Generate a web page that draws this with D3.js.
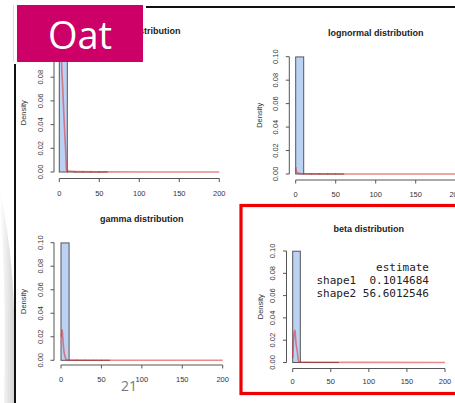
<!DOCTYPE html>
<html>
<head>
<meta charset="utf-8">
<script src="https://cdn.jsdelivr.net/npm/d3@7"></script>
<style>
  body { margin: 0; background: #fff; }
  svg { display: block; }
  .tick-label { font-family: "Liberation Sans", Arial, sans-serif; font-size: 7.5px; fill: #333; }
  .title { font-family: "Liberation Sans", Arial, sans-serif; font-size: 9px; font-weight: bold; fill: #222; }
  .estimate { font-family: "DejaVu Sans Mono", monospace; font-size: 11px; fill: #222; white-space: pre; }
</style>
</head>
<body>
<svg id="chart" width="455" height="403"></svg>
<script>
// histogram (same for every panel): break points and density per bin
const breaks = [0, 10, 20, 30, 40, 50, 60];
const histDensity = [0.0998, 0.0001, 0.00004, 0.00002, 0.00001, 0.00001];

const xTicks = [0, 50, 100, 150, 200];
const yTicks = [0, 0.02, 0.04, 0.06, 0.08, 0.10];

// fitted densities
const weibullX = [1, 2, 3, 4, 5, 6, 7, 8, 9, 10, 20, 60, 200];
const weibullY = [0.2, 0.12, 0.089, 0.075, 0.06, 0.044, 0.03, 0.017, 0.002, 0.001, 0.0003, 0.0001, 0.00002];
const lognormX = [0.2, 0.5, 1, 2, 5, 10, 60, 200];
const lognormY = [0.006, 0.004, 0.002, 0.001, 0.0005, 0.0002, 0.00005, 0];
const gammaX = [0.5, 1, 1.5, 2, 3, 4, 5, 6, 8, 10, 200];
const gammaY = [0.02, 0.026, 0.026, 0.021, 0.012, 0.006, 0.003, 0.001, 0.0003, 0.0001, 0];
const betaX = [0, 0.5, 1, 2, 3, 4, 5, 6, 7, 8, 10, 200];
const betaY = [0.004, 0.012, 0.02, 0.027, 0.029, 0.02, 0.014, 0.01, 0.004, 0.001, 0.0002, 0];

const titles = ["weibull distribution", "lognormal distribution", "gamma distribution", "beta distribution"];
const paramNames = ["shape1", "shape2"];
const paramEstimates = ["0.1014684", "56.6012546"];

// panel placement on the slide
const panels = [
    {x0: 59.3, x200: 219.3, y0: 172, y10: 53.5, axisX: 54, axisY: 178.5, labelY: 193, titleY: 31, densX: 23, curveX: weibullX, curveY: weibullY},
    {x0: 295.7, x200: 455.7, y0: 174, y10: 56.7, axisX: 289.3, axisY: 180, labelY: 194, titleY: 33, densX: 259, curveX: lognormX, curveY: lognormY},
    {x0: 61, x200: 222.7, y0: 360.3, y10: 242.7, axisX: 54, axisY: 365, labelY: 379.5, titleY: 219, densX: 23, curveX: gammaX, curveY: gammaY},
    {x0: 292.7, x200: 445, y0: 362.5, y10: 251, axisX: 286.5, axisY: 368.5, labelY: 381, titleY: 229, densX: 260, curveX: betaX, curveY: betaY}
];

const svg = d3.select("#chart");

// left decoration swoosh
let defs = svg.append("defs");
let grad = defs.append("linearGradient").attr("id", "swoosh").attr("x1", 0).attr("x2", 1);
grad.append("stop").attr("offset", 0).attr("stop-color", "#ffffff");
grad.append("stop").attr("offset", 1).attr("stop-color", "#d4d4d4");
svg.append("path")
    .attr("d", "M0,190 C8,230 13,270 14,310 L14,403 L4,403 C6,320 4,250 0,215 Z")
    .attr("fill", "url(#swoosh)");

panels.forEach(function (p, i) {
    let x = d3.scaleLinear().domain([0, 200]).range([p.x0, p.x200]);
    let y = d3.scaleLinear().domain([0, 0.1]).range([p.y0, p.y10]);
    let g = svg.append("g");

    let clipId = "clip" + i;
    defs.append("clipPath").attr("id", clipId)
        .append("rect")
        .attr("x", x(-8)).attr("y", y(0.104))
        .attr("width", x(208) - x(-8)).attr("height", y(-0.004) - y(0.104));

    // histogram bars
    g.selectAll("rect.bar")
        .data(histDensity)
        .enter()
        .append("rect")
        .attr("class", "bar")
        .attr("x", (d, j) => x(breaks[j]))
        .attr("width", (d, j) => x(breaks[j + 1]) - x(breaks[j]))
        .attr("y", d => y(d))
        .attr("height", d => y(0) - y(d))
        .attr("fill", "#bcd2f5")
        .attr("stroke", "#555")
        .attr("stroke-width", 1);

    // fitted density
    let line = d3.line()
        .x(d => x(d[0]))
        .y(d => y(d[1]))
        .curve(d3.curveMonotoneX);
    g.append("path")
        .datum(d3.zip(p.curveX, p.curveY))
        .attr("clip-path", "url(#" + clipId + ")")
        .attr("d", line)
        .attr("fill", "none")
        .attr("stroke", "#e02a2a")
        .attr("stroke-opacity", 0.55)
        .attr("stroke-width", 1.6);

    // x axis
    g.append("line")
        .attr("x1", x(0)).attr("x2", x(200))
        .attr("y1", p.axisY).attr("y2", p.axisY)
        .attr("stroke", "#555");
    g.selectAll("line.xt").data(xTicks).enter().append("line")
        .attr("x1", d => x(d)).attr("x2", d => x(d))
        .attr("y1", p.axisY).attr("y2", p.axisY + 3.5)
        .attr("stroke", "#555");
    g.selectAll("text.xl").data(xTicks).enter().append("text")
        .attr("class", "tick-label")
        .attr("x", d => x(d))
        .attr("y", p.labelY)
        .attr("text-anchor", "middle")
        .attr("dominant-baseline", "central")
        .text(d => d);

    // y axis
    g.append("line")
        .attr("x1", p.axisX).attr("x2", p.axisX)
        .attr("y1", y(0)).attr("y2", y(0.1))
        .attr("stroke", "#555");
    g.selectAll("line.yt").data(yTicks).enter().append("line")
        .attr("x1", p.axisX - 3.5).attr("x2", p.axisX)
        .attr("y1", d => y(d)).attr("y2", d => y(d))
        .attr("stroke", "#555");
    g.selectAll("text.yl").data(yTicks).enter().append("text")
        .attr("class", "tick-label")
        .attr("transform", d => "translate(" + (p.axisX - 14) + "," + y(d) + ") rotate(-90)")
        .attr("text-anchor", "middle")
        .attr("dominant-baseline", "central")
        .text(d => d3.format(".2f")(d));

    g.append("text")
        .attr("class", "tick-label")
        .attr("transform", "translate(" + p.densX + "," + y(0.05) + ") rotate(-90)")
        .attr("text-anchor", "middle")
        .attr("dominant-baseline", "central")
        .text("Density");

    g.append("text")
        .attr("class", "title")
        .attr("x", x(100))
        .attr("y", p.titleY)
        .attr("text-anchor", "middle")
        .attr("dominant-baseline", "central")
        .text(titles[i]);
});

// fitdist estimate printout in the beta panel
let rows = ["estimate"].concat(paramNames.map((n, j) => n + " " + paramEstimates[j].padStart(10)));
svg.selectAll("text.estimate")
    .data(rows)
    .enter()
    .append("text")
    .attr("class", "estimate")
    .attr("x", 429)
    .attr("y", (d, j) => 270.5 + j * 13)
    .attr("text-anchor", "end")
    .text(d => d);

// highlight box round the beta panel
svg.append("rect")
    .attr("x", 241).attr("y", 205.5)
    .attr("width", 240).attr("height", 188)
    .attr("fill", "none")
    .attr("stroke", "#f00000")
    .attr("stroke-width", 3.2);

// slide frame lines
svg.append("line").attr("x1", 146).attr("x2", 455).attr("y1", 7).attr("y2", 7)
    .attr("stroke", "#111").attr("stroke-width", 2);
svg.append("line").attr("x1", 15).attr("x2", 15).attr("y1", 64).attr("y2", 403)
    .attr("stroke", "#111").attr("stroke-width", 2);
svg.append("line").attr("x1", 13.5).attr("x2", 13.5).attr("y1", 5).attr("y2", 62)
    .attr("stroke", "#ddd").attr("stroke-width", 1);

// slide title tag
svg.append("rect")
    .attr("x", 17).attr("y", 5)
    .attr("width", 126).attr("height", 57)
    .attr("fill", "#cc0066");
svg.append("text")
    .attr("x", 80).attr("y", 49)
    .attr("text-anchor", "middle")
    .attr("fill", "#fff")
    .style("font-family", "'Open Sans', 'Noto Sans', sans-serif")
    .style("font-size", "38px")
    .text("Oat");

// slide number
svg.append("text")
    .attr("x", 129).attr("y", 391)
    .attr("text-anchor", "middle")
    .attr("fill", "#777")
    .style("font-family", "'Open Sans', 'Noto Sans', sans-serif")
    .style("font-size", "14px")
    .text("21");
</script>
</body>
</html>
